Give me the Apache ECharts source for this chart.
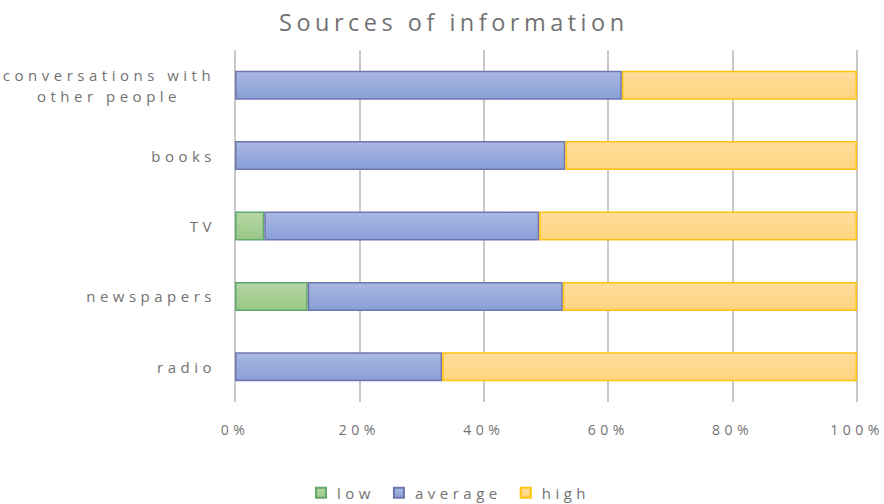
<!DOCTYPE html>
<html>
<head>
<meta charset="utf-8">
<script src="https://cdn.jsdelivr.net/npm/echarts@6/dist/echarts.min.js"></script>
<style>
html,body{margin:0;padding:0;background:#fff}
#c{width:884px;height:504px}
#c svg text{letter-spacing:4.5px}
</style>
</head>
<body>
<div id="c"></div>
<script>
const categories = ['radio', 'newspapers', 'TV', 'books', 'conversations with\nother people'];
const lowValues = [0, 11.7, 4.7, 0, 0];
const averageValues = [33.3, 41.0, 44.2, 53.1, 62.2];
const highValues = [66.7, 47.3, 51.1, 46.9, 37.8];
const xTicks = [0, 20, 40, 60, 80, 100];

const LS = 4.5;
const mctx = document.createElement('canvas').getContext('2d');
if (echarts.setPlatformAPI) {
  echarts.setPlatformAPI({
    measureText: function (text, font) {
      mctx.font = font || '12px sans-serif';
      const m = mctx.measureText(text);
      return {
        width: m.width + LS * Array.from(text || '').length,
        actualBoundingBoxAscent: m.actualBoundingBoxAscent,
        actualBoundingBoxDescent: m.actualBoundingBoxDescent,
        fontBoundingBoxAscent: m.fontBoundingBoxAscent,
        fontBoundingBoxDescent: m.fontBoundingBoxDescent
      };
    }
  });
}

function grad(top, bottom) {
  return new echarts.graphic.LinearGradient(0, 0, 0, 1, [
    { offset: 0, color: top }, { offset: 1, color: bottom }
  ]);
}
const nz = arr => arr.map(v => (v === 0 ? null : v));
const chart = echarts.init(document.getElementById('c'), null, { renderer: 'svg' });
const fontFam = '"Open Sans", "Noto Sans", sans-serif';
const labelColor = '#727272';
const seriesBase = { type: 'bar', stack: 'total', barWidth: 29 };
chart.setOption({
  animation: false,
  title: {
    text: 'Sources of information', left: 274, top: 3,
    textStyle: { fontSize: 23.5, fontWeight: 'normal', color: '#727272', fontFamily: fontFam }
  },
  legend: {
    top: 478, left: 310, itemWidth: 10, itemHeight: 10, itemGap: 18, icon: 'rect',
    textStyle: { fontSize: 15, color: labelColor, fontFamily: fontFam, padding: [0, 0, 0, 6] },
    data: ['low', 'average', 'high']
  },
  grid: { left: 235, right: 27, top: 50, bottom: 102, containLabel: false, outerBoundsMode: 'none' },
  xAxis: {
    type: 'value', min: 0, max: 100, interval: 20,
    axisLabel: { formatter: v => xTicks.includes(v) ? v + '%' : '', fontSize: 14, color: labelColor, margin: 18, fontFamily: fontFam },
    splitLine: { lineStyle: { color: '#c8c8c8', width: 2 } },
    axisLine: { show: false }, axisTick: { show: false }
  },
  yAxis: {
    type: 'category', data: categories,
    axisLine: { show: false }, axisTick: { show: false },
    axisLabel: {
      fontSize: 15, color: labelColor, margin: 19, fontFamily: fontFam, align: 'right',
      formatter: v => v.indexOf('\n') >= 0 ? v.split('\n').map(s => '{c|' + s + '}').join('\n') : v,
      rich: { c: { width: 214, align: 'center', fontSize: 15, color: labelColor, fontFamily: fontFam, lineHeight: 21 } }
    }
  },
  series: [
    Object.assign({}, seriesBase, {
      name: 'low', data: nz(lowValues),
      itemStyle: { color: grad('#b6d6a6', '#98c785'), borderColor: '#5fa86e', borderWidth: 1.5 }
    }),
    Object.assign({}, seriesBase, {
      name: 'average', data: nz(averageValues),
      itemStyle: { color: grad('#aab8e2', '#889fd8'), borderColor: '#6f76ad', borderWidth: 1.5 }
    }),
    Object.assign({}, seriesBase, {
      name: 'high', data: nz(highValues),
      itemStyle: { color: grad('#ffdd9c', '#ffd47e'), borderColor: '#ffc20e', borderWidth: 1.5 }
    })
  ]
});
</script>
</body>
</html>
